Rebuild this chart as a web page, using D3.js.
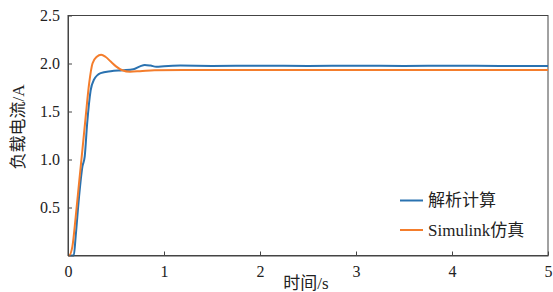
<!DOCTYPE html>
<html>
<head>
<meta charset="UTF-8">
<title>负载电流</title>
<script src="https://d3js.org/d3.v7.min.js"></script>
<style>
    body { margin: 0; background: #fff; }
    svg { display: block; }
</style>
</head>
<body>
<div id="chart"></div>
<script>
    // 解析计算
    const tBlue = [0, 0.06, 0.08, 0.115, 0.15, 0.174, 0.2, 0.236, 0.27, 0.34, 0.445, 0.565, 0.68, 0.75, 0.8, 0.86, 0.92, 1.0, 1.17, 1.5, 2, 2.5, 3, 3.5, 4, 4.5, 5];
    const vBlue = [0, 0, 0.2, 0.61, 0.925, 1.03, 1.38, 1.72, 1.83, 1.9, 1.92, 1.93, 1.94, 1.97, 1.985, 1.978, 1.966, 1.972, 1.978, 1.975, 1.976, 1.975, 1.976, 1.975, 1.976, 1.975, 1.975];
    // Simulink仿真
    const tOrange = [0, 0.01, 0.045, 0.08, 0.115, 0.15, 0.184, 0.22, 0.255, 0.3, 0.345, 0.39, 0.445, 0.5, 0.565, 0.646, 0.75, 0.9, 1.2, 2, 3, 4, 5];
    const vOrange = [0, 0, 0.09, 0.4, 0.755, 1.1, 1.445, 1.79, 2.0, 2.07, 2.09, 2.07, 2.02, 1.97, 1.93, 1.915, 1.92, 1.93, 1.933, 1.933, 1.933, 1.933, 1.933];

    const xTicks = [0, 1, 2, 3, 4, 5];
    const yTicks = [0.5, 1.0, 1.5, 2.0, 2.5];
    const seriesNames = ["解析计算", "Simulink仿真"];
    const colors = ["#2a72b0", "#f47d2c"];

    const FONT = "'Liberation Serif', 'Noto Sans CJK SC', serif";

    const width = 553, height = 292;
    const margin = { top: 15.5, right: 5, bottom: 36.5, left: 68 };

    const svg = d3.select("#chart").append("svg")
        .attr("width", width)
        .attr("height", height);

    const x = d3.scaleLinear().domain([0, 5]).range([margin.left, width - margin.right]);
    const y = d3.scaleLinear().domain([0, 2.5]).range([height - margin.bottom, margin.top]);

    // frame
    svg.append("rect")
        .attr("x", x(0)).attr("y", y(2.5))
        .attr("width", x(5) - x(0)).attr("height", y(0) - y(2.5))
        .attr("fill", "none").attr("stroke", "#444").attr("stroke-width", 1);

    const series = [
        tBlue.map((t, i) => [t, vBlue[i]]),
        tOrange.map((t, i) => [t, vOrange[i]])
    ];

    const line = d3.line()
        .x(d => x(d[0]))
        .y(d => y(d[1]))
        .curve(d3.curveMonotoneX);

    svg.selectAll(".series").data(series).join("path")
        .attr("class", "series")
        .attr("d", line)
        .attr("fill", "none")
        .attr("stroke", (d, i) => colors[i])
        .attr("stroke-width", 2);

    const xAxis = svg.append("g")
        .attr("transform", `translate(0,${y(0)})`)
        .call(d3.axisBottom(x).tickValues(xTicks).tickFormat(d3.format("d")).tickSizeInner(-4).tickSizeOuter(0).tickPadding(10));
    xAxis.select(".domain").attr("stroke", "#444");
    xAxis.selectAll(".tick line").attr("stroke", "#444");
    xAxis.selectAll("text").attr("dy", "0.71em")
        .style("font-family", FONT).style("font-size", "16px").style("fill", "#222");

    const yAxis = svg.append("g")
        .attr("transform", `translate(${x(0)},0)`)
        .call(d3.axisLeft(y).tickValues(yTicks).tickFormat(d3.format(".1f")).tickSizeInner(-4).tickSizeOuter(0).tickPadding(8));
    yAxis.select(".domain").attr("stroke", "#444");
    yAxis.selectAll(".tick line").attr("stroke", "#444");
    yAxis.selectAll("text")
        .style("font-family", FONT).style("font-size", "16px").style("fill", "#222");

    svg.append("text")
        .attr("x", 306).attr("y", 289)
        .attr("text-anchor", "middle")
        .style("font-family", FONT).style("font-size", "17px").style("fill", "#222")
        .text("时间/s");

    svg.append("text")
        .attr("transform", "translate(24,127) rotate(-90)")
        .attr("text-anchor", "middle")
        .style("font-family", FONT).style("font-size", "17px").style("fill", "#222")
        .text("负载电流/A");

    // legend
    const legend = svg.append("g").attr("transform", "translate(400,200.5)");
    seriesNames.forEach((name, i) => {
        const row = legend.append("g").attr("transform", `translate(0,${i * 29.5})`);
        row.append("line")
            .attr("x1", 0).attr("x2", 23)
            .attr("stroke", colors[i]).attr("stroke-width", 2);
        row.append("text")
            .attr("x", 28).attr("dy", "0.35em")
            .style("font-family", FONT).style("font-size", "17px").style("fill", "#222")
            .text(name);
    });
</script>
</body>
</html>
